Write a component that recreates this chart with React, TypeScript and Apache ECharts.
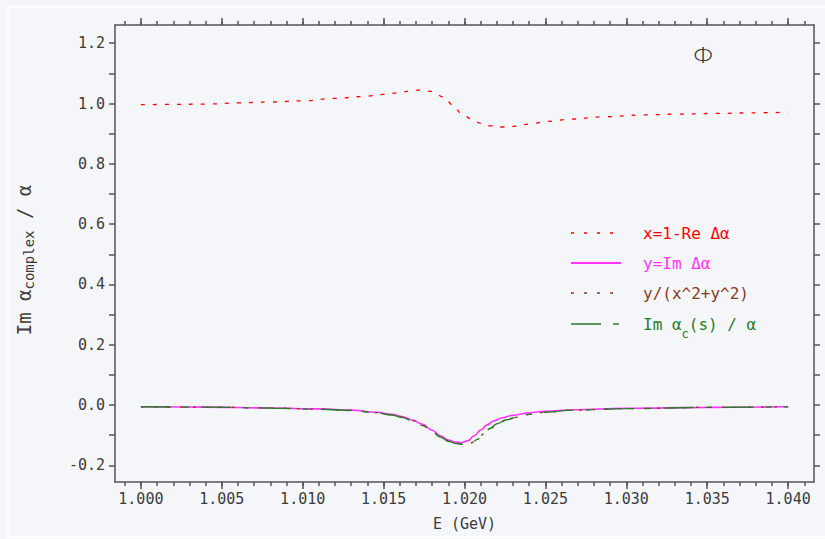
import React, { useEffect, useRef } from "react";
import * as echarts from "echarts";

// ---- data ----
const redE = [1.000, 1.002, 1.004, 1.006, 1.008, 1.010, 1.012, 1.0137, 1.015, 1.016, 1.0166, 1.0173, 1.0180, 1.0187, 1.0193, 1.0198, 1.0204, 1.0210, 1.0216, 1.0223, 1.0230, 1.0240, 1.0252, 1.0265, 1.0286, 1.0310, 1.0332, 1.0355, 1.0377, 1.0400];
const redV = [0.996, 0.997, 0.998, 1.002, 1.005, 1.009, 1.017, 1.023, 1.030, 1.036, 1.041, 1.045, 1.040, 1.022, 0.994, 0.967, 0.949, 0.934, 0.926, 0.922, 0.924, 0.932, 0.941, 0.948, 0.956, 0.962, 0.965, 0.967, 0.969, 0.971];

const magE = [1.000, 1.004, 1.008, 1.011, 1.013, 1.0145, 1.0155, 1.0162, 1.0168, 1.0174, 1.0180, 1.0185, 1.0190, 1.0194, 1.0198, 1.0202, 1.0206, 1.0210, 1.0214, 1.0218, 1.0223, 1.0230, 1.0240, 1.0250, 1.0267, 1.030, 1.035, 1.040];
const magV = [-0.006, -0.007, -0.010, -0.013, -0.017, -0.024, -0.031, -0.039, -0.050, -0.064, -0.084, -0.102, -0.116, -0.123, -0.125, -0.119, -0.102, -0.083, -0.066, -0.053, -0.043, -0.034, -0.026, -0.021, -0.016, -0.011, -0.008, -0.006];

const brnE = [1.000, 1.004, 1.008, 1.011, 1.013, 1.0145, 1.0155, 1.0162, 1.0168, 1.0174, 1.0180, 1.0185, 1.0190, 1.0195, 1.0200, 1.0204, 1.0208, 1.0212, 1.0216, 1.0220, 1.0226, 1.0233, 1.0240, 1.0250, 1.0267, 1.030, 1.035, 1.040];
const brnV = [-0.006, -0.007, -0.010, -0.014, -0.018, -0.025, -0.032, -0.041, -0.052, -0.067, -0.087, -0.105, -0.119, -0.127, -0.130, -0.126, -0.113, -0.096, -0.078, -0.063, -0.050, -0.040, -0.031, -0.024, -0.017, -0.012, -0.008, -0.006];

const grnE = [1.000, 1.004, 1.008, 1.011, 1.013, 1.0145, 1.0155, 1.0162, 1.0168, 1.0174, 1.0180, 1.0185, 1.0190, 1.0195, 1.0200, 1.0204, 1.0208, 1.0212, 1.0216, 1.0220, 1.0226, 1.0233, 1.0240, 1.0250, 1.0267, 1.030, 1.035, 1.040];
const grnV = [-0.006, -0.007, -0.010, -0.014, -0.018, -0.025, -0.033, -0.042, -0.053, -0.068, -0.088, -0.106, -0.120, -0.128, -0.131, -0.127, -0.114, -0.095, -0.077, -0.062, -0.049, -0.039, -0.031, -0.024, -0.017, -0.012, -0.008, -0.006];

const xMajor = [1.000, 1.005, 1.010, 1.015, 1.020, 1.025, 1.030, 1.035, 1.040];
const xMinor = [0.999, 1.000, 1.001, 1.002, 1.003, 1.004, 1.005, 1.006, 1.007, 1.008, 1.009, 1.010, 1.011, 1.012, 1.013, 1.014, 1.015, 1.016, 1.017, 1.018, 1.019, 1.020, 1.021, 1.022, 1.023, 1.024, 1.025, 1.026, 1.027, 1.028, 1.029, 1.030, 1.031, 1.032, 1.033, 1.034, 1.035, 1.036, 1.037, 1.038, 1.039, 1.040, 1.041];
const yLabels = [-0.2, 0.0, 0.2, 0.4, 0.6, 0.8, 1.0, 1.2];
const yTicks = [-0.2, -0.1, 0.0, 0.1, 0.2, 0.3, 0.4, 0.5, 0.6, 0.7, 0.8, 0.9, 1.0, 1.1, 1.2];

const legendNames = ["x=1-Re Δα", "y=Im Δα", "y/(x^2+y^2)", "Im α{c|c}(s) / α"];

const X_MIN = 0.9984;
const X_MAX = 1.0416;
const Y_MIN = -0.2554;
const Y_MAX = 1.2604;

const FONT = "DejaVu Sans Mono";
const AX = "#555";
const TXT = "#3c3c3c";
const RED = "#ff0000";
const MAG = "#ff33ff";
const BRN = "#8b3a1a";
const GRN = "#2a7a2a";

const pairs = (e: number[], v: number[]) => e.map((x, i) => [x, v[i]]);

export default function App() {
  const ref = useRef<HTMLDivElement>(null);
  useEffect(() => {
    if (!ref.current) return;
    const chart = echarts.init(ref.current, undefined, { renderer: "svg" });
    const axLine = { show: true, onZero: false, lineStyle: { color: AX, width: 1.5 } };
    const noLine = { show: false, onZero: false };
    const tickStyle = { color: AX, width: 1.5 };
    const baseX = { type: "value", min: X_MIN, max: X_MAX, splitLine: { show: false } };
    const baseY = { type: "value", min: Y_MIN, max: Y_MAX, splitLine: { show: false } };

    const legendColors = [RED, MAG, BRN, GRN];
    const legendDash: any[] = [[3, 10], "solid", [3, 10], [30, 12, 6, 100]];
    const rowsY = [233, 263, 293, 324];
    const legendGraphics: any[] = [];
    rowsY.forEach((y, i) => {
      legendGraphics.push({
        type: "line",
        shape: { x1: 571, y1: y, x2: 621, y2: y },
        style: { stroke: legendColors[i], lineWidth: i === 1 ? 1.8 : 1.3, lineDash: legendDash[i] === "solid" ? null : legendDash[i] },
      });
      legendGraphics.push({
        type: "text",
        x: 643,
        y: y,
        style: {
          text: legendNames[i],
          fill: legendColors[i],
          font: `16px "${FONT}"`,
          verticalAlign: "middle",
          rich: { c: { fontSize: 12, fontFamily: FONT, fill: legendColors[i], verticalAlign: "bottom", padding: [0, 0, -8, 0] } },
        },
      });
    });

    chart.setOption({
      animation: false,
      backgroundColor: "#f5f6fa",
      grid: { left: 115, right: 11, top: 25, bottom: 57 },
      xAxis: [
        {
          ...baseX, position: "bottom", axisLine: axLine,
          axisTick: { show: true, customValues: xMajor, length: 7, lineStyle: tickStyle },
          axisLabel: { customValues: xMajor, formatter: (v: number) => v.toFixed(3), fontFamily: FONT, fontSize: 15, color: TXT, margin: 9 },
          name: "E (GeV)", nameLocation: "middle", nameGap: 34,
          nameTextStyle: { fontFamily: FONT, fontSize: 15, color: TXT },
        },
        {
          ...baseX, position: "bottom", axisLine: noLine,
          axisTick: { show: true, customValues: xMinor, length: 4, lineStyle: tickStyle },
          axisLabel: { show: false },
        },
        {
          ...baseX, position: "top", axisLine: axLine,
          axisTick: { show: true, customValues: xMajor, length: 7, lineStyle: tickStyle },
          axisLabel: { show: false },
        },
        {
          ...baseX, position: "top", axisLine: noLine,
          axisTick: { show: true, customValues: xMinor, length: 4, lineStyle: tickStyle },
          axisLabel: { show: false },
        },
      ],
      yAxis: [
        {
          ...baseY, position: "left", axisLine: axLine,
          axisTick: { show: true, customValues: yTicks, length: 6, lineStyle: tickStyle },
          axisLabel: { customValues: yLabels, formatter: (v: number) => v.toFixed(1), fontFamily: FONT, fontSize: 15, color: TXT, margin: 10 },
        },
        {
          ...baseY, position: "right", axisLine: axLine,
          axisTick: { show: true, customValues: yTicks, length: 6, lineStyle: tickStyle },
          axisLabel: { show: false },
        },
      ],
      graphic: [
        { type: "rect", shape: { x: 8, y: 7, width: 840, height: 530 }, style: { fill: "none", stroke: "#ffffff", lineWidth: 1.5 }, silent: true },
        {
          type: "text", x: 24, y: 260, rotation: Math.PI / 2,
          style: {
            text: "Im α{s|complex} / α",
            fill: TXT,
            font: `19px "${FONT}"`,
            align: "center",
            verticalAlign: "middle",
            rich: { s: { fontSize: 14, fontFamily: FONT, fill: TXT, padding: [0, 0, -10, 0] } },
          },
        },
        { type: "text", x: 704, y: 55, scaleX: 1.25, style: { text: "Φ", fill: TXT, font: `200 22px "DejaVu Sans"`, align: "center", verticalAlign: "middle" } },
        ...legendGraphics,
      ],
      series: [
        { name: legendNames[0], type: "line", data: pairs(redE, redV), showSymbol: false, smooth: 0.4, smoothMonotone: "x", lineStyle: { color: RED, width: 1.3, type: [4, 8] }, z: 2 },
        { name: legendNames[1], type: "line", data: pairs(magE, magV), showSymbol: false, smooth: 0.4, smoothMonotone: "x", lineStyle: { color: MAG, width: 1.6 }, z: 2 },
        { name: legendNames[2], type: "line", data: pairs(brnE, brnV), showSymbol: false, smooth: 0.4, smoothMonotone: "x", lineStyle: { color: BRN, width: 1.3, type: [3, 10] }, z: 3 },
        { name: legendNames[3], type: "line", data: pairs(grnE, grnV), showSymbol: false, smooth: 0.4, smoothMonotone: "x", lineStyle: { color: GRN, width: 1.4, type: [30, 12, 6, 12] }, z: 4 },
      ],
    });
    return () => chart.dispose();
  }, []);
  return <div ref={ref} style={{ position: "fixed", left: 0, top: 0, width: 825, height: 539 }} />;
}
